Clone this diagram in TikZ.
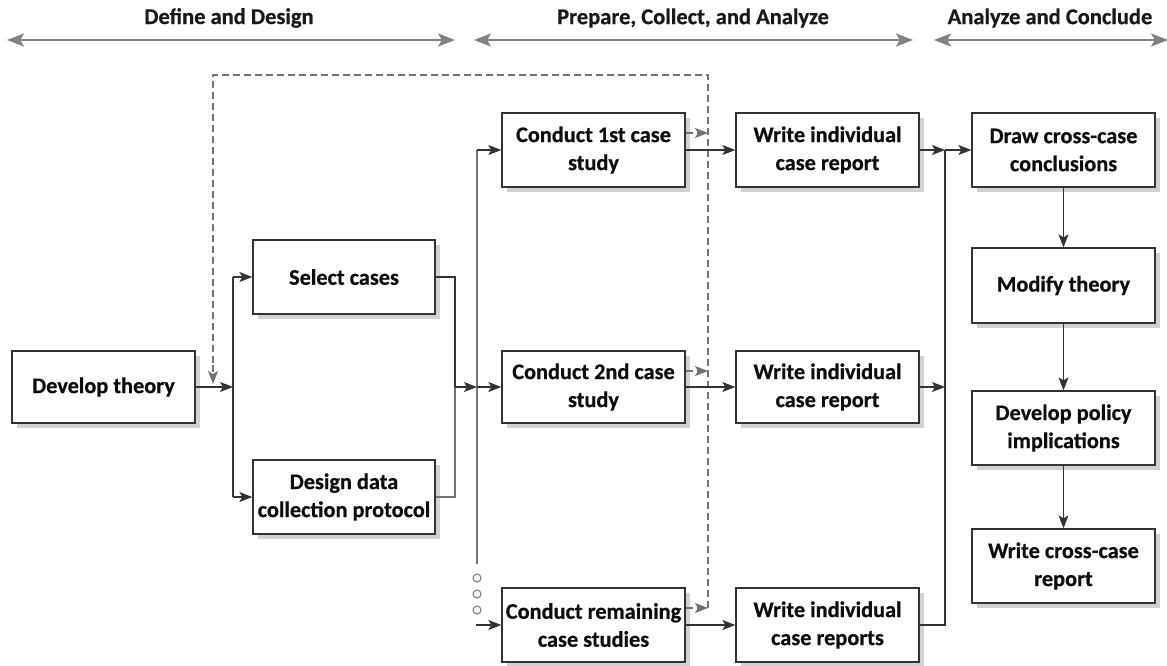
\documentclass[tikz,border=0pt]{standalone}
\usepackage{fontspec}
\setmainfont{Carlito}[BoldFeatures={FakeBold=0.6}]
\usetikzlibrary{arrows.meta,shadows,calc}
\begin{document}
\begin{tikzpicture}[x=1pt,y=-1pt,
  box/.style={draw=black!80, line width=1.3pt, fill=white, minimum width=183pt, minimum height=74pt,
    align=center, font=\fontsize{22.3}{28}\selectfont\bfseries, text=black!95, inner sep=0pt,
    drop shadow={shadow xshift=5pt, shadow yshift=-5pt, fill=black!18, opacity=1}},
  conn/.style={draw=black!80, line width=1.1pt, -{Stealth[length=13pt,width=10pt,inset=3pt]}},
  wire/.style={draw=black!80, line width=1.1pt},
  gwire/.style={draw=black!55, line width=1.1pt},
  fb/.style={draw=black!55, line width=1.4pt, dash pattern=on 7pt off 4pt},
  fbarrow/.style={fb, -{Stealth[length=13pt,width=10pt,inset=3pt]}},
  phase/.style={draw=black!50, line width=2.2pt, {Stealth[length=17pt,width=13pt,inset=4pt]}-{Stealth[length=17pt,width=13pt,inset=4pt]}},
  head/.style={font=\fontsize{22.5}{26}\selectfont\bfseries, text=black!90},
  dot/.style={circle, draw=black!50, fill=white, line width=1.1pt, minimum size=8pt, inner sep=0pt}]
\useasboundingbox (0,0) rectangle (1167,665);

% phase headers
\node[head] (h1) at (229,18) {Define and Design};
\node[head] (h2) at (693,18) {Prepare, Collect, and Analyze};
\node[head] (h3) at (1050,18) {Analyze and Conclude};
\coordinate (h1l) at (7,40); \coordinate (h1r) at (455,40);
\coordinate (h2l) at (474,40); \coordinate (h2r) at (913,40);
\coordinate (h3l) at (934,40); \coordinate (h3r) at (1168,40);
\draw[phase] (h1l) -- (h1r);
\draw[phase] (h2l) -- (h2r);
\draw[phase] (h3l) -- (h3r);

% boxes
\node[box, minimum height=72pt] (dev) at (103.5,387) {Develop theory};
\node[box, minimum width=182pt] (sel) at (344,277) {Select cases};
\node[box, minimum width=182pt] (des) at (344,497) {Design data\\collection protocol};
\node[box] (c1) at (593.5,150) {Conduct 1st case\\study};
\node[box, minimum height=72pt] (c2) at (593.5,387) {Conduct 2nd case\\study};
\node[box] (c3) at (593.5,625) {Conduct remaining\\case studies};
\node[box] (w1) at (827.5,150) {Write individual\\case report};
\node[box, minimum height=72pt] (w2) at (827.5,387) {Write individual\\case report};
\node[box] (w3) at (827.5,625) {Write individual\\case reports};
\node[box] (draw) at (1063.5,150) {Draw cross-case\\conclusions};
\node[box, minimum height=75pt] (mod) at (1063.5,285.5) {Modify theory};
\node[box] (pol) at (1063.5,428) {Develop policy\\implications};
\node[box] (wcc) at (1063.5,566) {Write cross-case\\report};

% junction coordinates
\coordinate (jA) at (233,387);
\coordinate (jAt) at (233,277);
\coordinate (jAb) at (233,497);
\coordinate (jB) at (455,387);
\coordinate (jC) at (477,387);
\coordinate (jCt) at (477,150);
\coordinate (jCb) at (477,564);
\coordinate (jCr) at (476,625);
\coordinate (jD) at (945,150);
\coordinate (jD2) at (945,387);
\coordinate (fbA) at (708,75);
\coordinate (fbB) at (213,75);
\coordinate (fbE) at (213,365);
\coordinate (fbC) at (213,384);
\coordinate (fbD) at (708,608);
\coordinate (fb1) at (708,133);
\coordinate (fb2) at (708,371);
\coordinate (fb3) at (708,608);

% feedback dashed loop
\draw[fb] (fbD) -- (fbA) -- (fbB) -- (fbE);
\draw[fbarrow] (fbE) -- (fbC);
\draw[fbarrow] (c1.east |- fb1) -- (fb1);
\draw[fbarrow] (c2.east |- fb2) -- (fb2);
\draw[fbarrow] (c3.east |- fb3) -- (fb3);

% left section
\draw[conn] (dev.east) -- (jA);
\draw[wire] (jAt) -- (jAb);
\draw[conn] (jAt) -- (sel.west);
\draw[conn] (jAb) -- (des.west);
\draw[wire] (sel.east) -| (jB);
\draw[gwire] (des.east) -| (jB);
\draw[conn] (jB) -- (jC);

% middle distribution
\draw[gwire] (jCt) -- (jCb);
\draw[conn] (jCt) -- (c1.west);
\draw[conn] (jC) -- (c2.west);
\node[dot] (d1) at (477,578) {};
\node[dot] (d2) at (477,594) {};
\node[dot] (d3) at (477,610) {};
\draw[conn] (jCr) -- (c3.west);

% conduct -> write
\draw[conn] (c1.east) -- (w1.west);
\draw[conn] (c2.east) -- (w2.west);
\draw[conn] (c3.east) -- (w3.west);

% write -> cross-case
\draw[conn] (w1.east) -- (jD);
\draw[conn] (w2.east) -- (jD2);
\draw[wire] (w3.east) -| (jD);
\draw[conn] (jD) -- (draw.west);

% right column
\draw[conn] (draw.south) -- (mod.north);
\draw[conn] (mod.south) -- (pol.north);
\draw[conn] (pol.south) -- (wcc.north);
\end{tikzpicture}
\end{document}
